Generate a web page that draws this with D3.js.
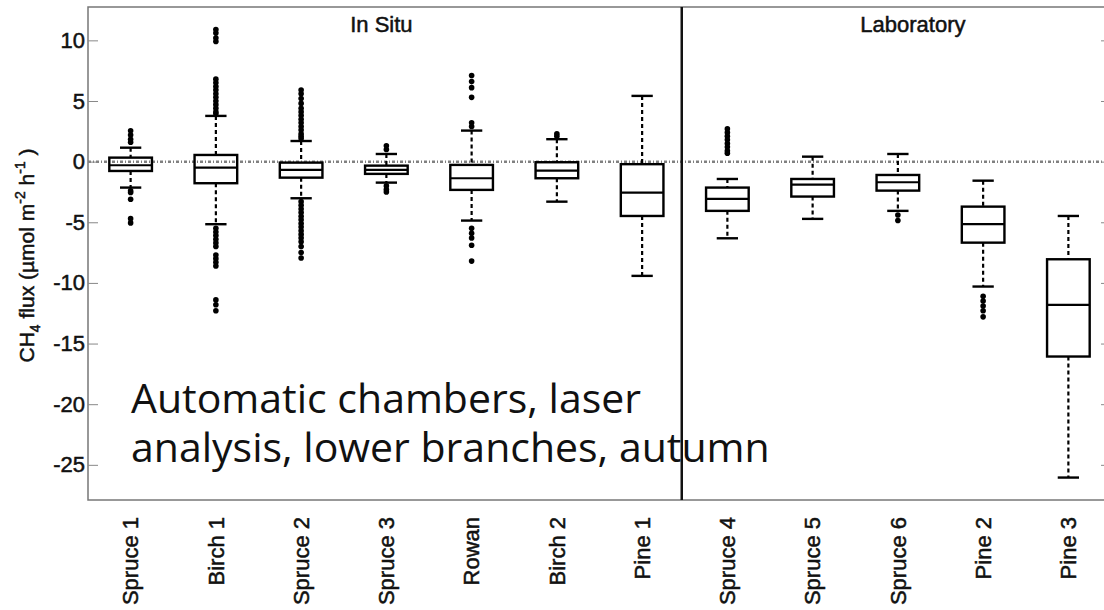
<!DOCTYPE html>
<html lang="en">
<head>
<meta charset="utf-8">
<title>CH4 flux</title>
<script src="https://cdn.jsdelivr.net/npm/d3@7"></script>
<style>
    body { margin: 0; background: #fff; }
    svg text { font-family: "Liberation Sans", Arial, Helvetica, sans-serif; fill: #111; }
    .lab { stroke: #111; stroke-width: 0.5px; }
    .note { font-family: "Open Sans", sans-serif !important; }
</style>
</head>
<body>
<div id="chart"></div>
<script>
// categories, left 7 measured in situ, right 5 in the laboratory
const trees = ["Spruce 1", "Birch 1", "Spruce 2", "Spruce 3", "Rowan", "Birch 2", "Pine 1",
               "Spruce 4", "Spruce 5", "Spruce 6", "Pine 2", "Pine 3"];
const groupNames = ["In Situ", "Laboratory"];
const yTicks = [10, 5, 0, -5, -10, -15, -20, -25];

// box plot statistics
const whiskerHi = [1.15, 3.77, 1.7, 0.63, 2.56, 1.85, 5.42, -1.43, 0.41, 0.63, -1.57, -4.48];
const q3 =        [0.33, 0.55, -0.08, -0.33, -0.27, -0.05, -0.21, -2.14, -1.43, -1.1, -3.71, -8.05];
const medians =   [-0.3, -0.49, -0.68, -0.68, -1.37, -0.74, -2.55, -3.07, -1.9, -1.7, -5.16, -11.81];
const q1 =        [-0.77, -1.78, -1.32, -1.01, -2.33, -1.37, -4.48, -4.06, -2.88, -2.39, -6.68, -16.07];
const whiskerLo = [-2.14, -5.16, -3.02, -1.73, -4.86, -3.3, -9.42, -6.32, -4.72, -4.06, -10.3, -26.05];
const outliers = [
    [2.55, 2.2, 1.85, 1.6, -2.4, -2.55, -3.1, -4.7, -5.05],
    [10.9, 10.6, 10.2, 9.9, 6.8, 6.5, 6.2, 5.9, 5.6, 5.3, 5.0, 4.7, 4.4, 4.1, 3.95,
     -5.5, -5.8, -6.1, -6.4, -6.7, -7.0, -7.7, -8.0, -8.3, -8.6, -11.4, -11.8, -12.3],
    [5.9, 5.6, 5.2, 4.8, 4.4, 4.1, 3.8, 3.5, 3.2, 2.9, 2.6, 2.3, 2.1, 1.9,
     -3.3, -3.6, -3.9, -4.2, -4.5, -4.8, -5.1, -5.4, -5.7, -6.0, -6.3, -6.6, -7.0, -7.5, -7.95],
    [1.3, 1.0, -2.0, -2.3, -2.5],
    [7.1, 6.6, 6.1, 5.3, 3.2, 2.9, -5.5, -5.9, -6.3, -6.9, -8.2],
    [2.1, 2.3],
    [],
    [2.7, 2.4, 2.1, 1.8, 1.5, 1.2, 0.9, 0.7],
    [],
    [-4.4, -4.85],
    [-11.1, -11.5, -11.9, -12.3, -12.8],
    []
];

const width = 1104, height = 610;
const margin = {top: 7, right: -7, bottom: 110, left: 88};
const innerW = width - margin.left - margin.right,
      innerH = height - margin.top - margin.bottom;

const svg = d3.select("#chart").append("svg")
    .attr("width", width)
    .attr("height", height);
const g = svg.append("g")
    .attr("transform", "translate(" + margin.left + "," + margin.top + ")");

const x = d3.scalePoint()
    .domain(trees)
    .range([0, innerW])
    .padding(0.5);
const y = d3.scaleLinear()
    .domain([-27.9, 12.75])
    .range([innerH, 0]);

const boxW = x.step() * 0.5;
const capW = boxW / 2;

// dotted zero line
g.append("line")
    .attr("x1", 0).attr("x2", innerW)
    .attr("y1", y(0)).attr("y2", y(0))
    .attr("stroke", "#808080")
    .attr("stroke-width", 2.5)
    .attr("stroke-dasharray", "3,2,1,2");

// frame
g.append("rect")
    .attr("width", innerW).attr("height", innerH)
    .attr("fill", "none")
    .attr("stroke", "#777")
    .attr("stroke-width", 1.5);

const yAxis = g.append("g")
    .call(d3.axisLeft(y).tickValues(yTicks).tickSizeInner(-10).tickSizeOuter(0)
        .tickPadding(3).tickFormat(d => String(d)));
yAxis.select(".domain").remove();
yAxis.selectAll("line").attr("stroke", "#888");
yAxis.selectAll("text").attr("class", "lab").style("font-size", "22px").attr("fill", "#111");

const yAxisR = g.append("g")
    .attr("transform", "translate(" + innerW + ",0)")
    .call(d3.axisRight(y).tickValues(yTicks).tickSizeInner(-10).tickSizeOuter(0).tickFormat(""));
yAxisR.select(".domain").remove();
yAxisR.selectAll("line").attr("stroke", "#888");

// box plots
const data = trees.map((t, i) => ({
    name: t, hi: whiskerHi[i], q3: q3[i], med: medians[i], q1: q1[i], lo: whiskerLo[i], out: outliers[i]
}));

const box = g.selectAll(".box")
    .data(data)
    .enter().append("g")
    .attr("class", "box")
    .attr("transform", d => "translate(" + x(d.name) + ",0)");

box.append("line")
    .attr("y1", d => y(d.hi)).attr("y2", d => y(d.q3))
    .attr("stroke", "#000").attr("stroke-width", 2.2).attr("stroke-dasharray", "4,3");
box.append("line")
    .attr("y1", d => y(d.q1)).attr("y2", d => y(d.lo))
    .attr("stroke", "#000").attr("stroke-width", 2.2).attr("stroke-dasharray", "4,3");
box.append("line")
    .attr("x1", -capW / 2).attr("x2", capW / 2)
    .attr("y1", d => y(d.hi)).attr("y2", d => y(d.hi))
    .attr("stroke", "#000").attr("stroke-width", 2.4);
box.append("line")
    .attr("x1", -capW / 2).attr("x2", capW / 2)
    .attr("y1", d => y(d.lo)).attr("y2", d => y(d.lo))
    .attr("stroke", "#000").attr("stroke-width", 2.4);
box.append("rect")
    .attr("x", -boxW / 2)
    .attr("width", boxW)
    .attr("y", d => y(d.q3))
    .attr("height", d => y(d.q1) - y(d.q3))
    .attr("fill", "none")
    .attr("stroke", "#000")
    .attr("stroke-width", 2.4);
box.append("line")
    .attr("x1", -boxW / 2).attr("x2", boxW / 2)
    .attr("y1", d => y(d.med)).attr("y2", d => y(d.med))
    .attr("stroke", "#000").attr("stroke-width", 2.2);
box.selectAll("circle")
    .data(d => d.out)
    .enter().append("circle")
    .attr("r", 2.8)
    .attr("cy", d => y(d))
    .attr("fill", "#000");

// divider between in situ and laboratory
const divX = (x("Pine 1") + x("Spruce 4")) / 2 - 3;
g.append("line")
    .attr("x1", divX).attr("x2", divX)
    .attr("y1", 0).attr("y2", innerH)
    .attr("stroke", "#111")
    .attr("stroke-width", 2.5);

// group titles
g.append("text")
    .attr("class", "lab")
    .attr("x", x("Spruce 3") - 5).attr("y", 25)
    .attr("text-anchor", "middle")
    .style("font-size", "22px")
    .text(groupNames[0]);
g.append("text")
    .attr("class", "lab")
    .attr("x", x("Spruce 6") + 15).attr("y", 25)
    .attr("text-anchor", "middle")
    .style("font-size", "22px")
    .text(groupNames[1]);

// category labels
g.selectAll(".xlab")
    .data(trees)
    .enter().append("text")
    .attr("class", "xlab lab")
    .attr("transform", d => "translate(" + x(d) + "," + (innerH + 17) + ") rotate(-90)")
    .attr("text-anchor", "end")
    .attr("dy", "0.35em")
    .style("font-size", "22px")
    .text(d => d);

// y label
const yl = svg.append("text")
    .attr("class", "lab")
    .attr("transform", "translate(34," + (margin.top + innerH / 2 + 2) + ") rotate(-90)")
    .attr("text-anchor", "middle")
    .style("font-size", "21px");
yl.append("tspan").text("CH");
yl.append("tspan").attr("dy", 6).style("font-size", "14px").text("4");
yl.append("tspan").attr("dy", -6).text(" flux (\u00b5mol m");
yl.append("tspan").attr("dy", -9).style("font-size", "14px").text("-2");
yl.append("tspan").attr("dy", 9).text(" h");
yl.append("tspan").attr("dy", -9).style("font-size", "14px").text("-1");
yl.append("tspan").attr("dy", 9).text(" )");

// annotation, one text per line
const noteLines = ["Automatic chambers, laser", "analysis, lower branches, autumn"];
svg.selectAll(".note")
    .data(noteLines)
    .enter().append("text")
    .attr("class", "note")
    .attr("x", 131)
    .attr("y", (d, i) => 413 + i * 49)
    .style("font-size", "41px")
    .attr("fill", "#000")
    .text(d => d);
</script>
</body>
</html>
